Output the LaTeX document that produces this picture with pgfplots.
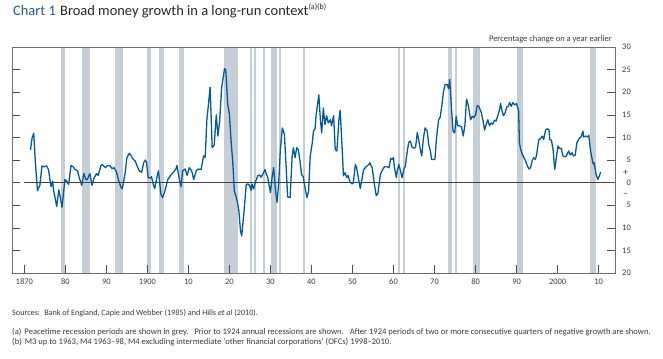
\documentclass[border=0pt]{standalone}
\usepackage{fontspec}
\setmainfont{Carlito}
\usepackage{pgfplots}
\pgfplotsset{compat=1.18}
\definecolor{boeblue}{HTML}{005A9C}
\definecolor{recgrey}{HTML}{C6CED6}
\definecolor{txtgrey}{HTML}{3A3A3A}
\definecolor{axgrey}{HTML}{6E6E6E}
\definecolor{titleblue}{HTML}{1F5AA0}
\pgfplotstableread{
year val
1871.5 7.2
1871.9 9.9
1872.3 10.9
1872.7 4.4
1873.2 -1.8
1873.8 -0.6
1874.3 3.7
1874.8 3.5
1875.4 3.7
1875.9 2.9
1876.5 -0.9
1876.9 0.3
1877.1 -1.5
1877.9 -5.3
1878.4 -1.6
1878.7 -2.9
1879.2 -5.5
1879.9 0.7
1880.4 0.2
1880.8 -0.4
1881.4 3.8
1881.9 3.5
1882.4 2.9
1883.0 2.6
1883.4 1.1
1884.0 -0.6
1884.5 2.0
1885.0 0.7
1885.3 0.6
1886.0 2.0
1886.5 -0.6
1887.0 1.0
1887.6 2.0
1888.0 1.6
1888.7 3.8
1889.0 4.0
1889.8 3.3
1890.3 3.8
1890.9 3.7
1891.4 3.1
1891.9 3.3
1892.5 2.3
1893.0 0.4
1893.6 -1.1
1893.9 -1.3
1894.6 2.2
1895.0 5.5
1895.6 6.5
1896.0 6.0
1896.4 5.3
1897.0 4.8
1897.5 3.7
1898.0 2.6
1898.6 2.3
1899.1 4.4
1899.5 5.0
1899.8 4.5
1900.2 1.1
1900.7 1.0
1901.0 1.3
1901.5 -0.6
1901.8 -1.3
1902.4 1.5
1902.7 2.6
1903.3 -2.6
1903.7 -3.3
1904.2 -2.1
1905.0 0.7
1905.8 1.8
1906.4 2.3
1907.0 3.1
1907.2 3.8
1907.8 0.7
1908.2 -0.9
1908.6 2.6
1909.2 3.0
1909.7 1.6
1910.2 3.3
1910.8 2.6
1911.3 0.7
1911.9 2.6
1912.4 3.0
1913.1 2.9
1913.7 5.9
1914.1 5.6
1914.5 13.9
1914.8 16.5
1915.3 21.1
1915.8 7.7
1916.3 8.3
1916.8 15.0
1917.2 10.3
1917.6 13.4
1918.1 20.9
1918.8 25.2
1919.1 25.0
1919.6 17.2
1920.0 15.2
1920.4 9.2
1920.8 4.8
1921.2 -1.8
1921.9 -4.0
1922.3 -6.2
1922.7 -10.7
1923.0 -11.8
1923.5 -7.0
1924.1 -0.4
1924.5 -0.3
1924.9 -0.6
1925.3 -1.7
1925.5 -0.3
1925.9 -1.4
1926.3 0.0
1926.9 1.5
1927.3 1.7
1927.7 1.2
1928.1 1.8
1928.7 2.9
1928.9 2.1
1929.3 1.3
1930.0 -2.2
1930.4 1.2
1930.8 3.3
1931.2 -1.4
1931.6 -4.4
1932.0 -0.3
1932.4 7.0
1932.9 12.1
1933.4 10.7
1933.8 4.0
1934.2 -3.2
1934.8 -3.3
1935.3 5.9
1935.6 7.7
1936.0 5.5
1936.4 7.7
1936.8 7.3
1937.2 4.8
1937.6 1.8
1938.0 1.3
1938.5 -1.5
1938.9 -3.3
1939.3 -1.9
1939.7 5.9
1940.2 8.8
1940.5 11.4
1940.9 12.0
1941.1 14.7
1941.8 19.4
1942.2 13.6
1942.5 11.0
1942.9 16.5
1943.3 12.8
1943.7 14.8
1944.1 13.2
1944.6 13.9
1944.9 12.6
1945.4 14.8
1945.8 7.3
1946.2 7.0
1946.7 13.9
1947.0 16.0
1947.5 7.3
1947.8 1.5
1948.2 2.2
1948.6 1.1
1948.9 1.6
1949.4 0.1
1949.9 -0.3
1950.2 -0.1
1950.7 4.0
1951.0 3.3
1951.5 0.7
1951.9 -1.3
1952.3 0.7
1952.7 2.8
1953.3 3.5
1954.0 4.0
1954.2 4.4
1954.8 3.3
1955.4 -0.7
1955.8 -2.9
1956.2 -2.4
1956.8 1.8
1957.3 2.8
1957.8 3.5
1958.5 3.5
1958.9 3.3
1959.3 5.3
1959.6 5.1
1960.0 5.5
1960.2 3.5
1960.7 1.1
1960.9 2.6
1961.3 4.0
1961.7 2.6
1962.1 1.1
1962.5 2.9
1962.9 3.7
1963.2 5.9
1963.7 8.9
1964.1 9.2
1964.5 7.9
1965.0 7.6
1965.4 7.9
1965.8 11.1
1966.2 9.2
1966.6 7.0
1966.9 5.9
1967.3 9.9
1967.7 12.1
1968.2 11.4
1968.6 8.4
1969.0 7.0
1969.3 5.1
1969.8 5.1
1970.1 5.2
1970.5 10.1
1971.0 13.9
1971.4 14.5
1971.8 17.2
1972.2 20.2
1972.6 21.7
1973.1 21.7
1973.4 20.8
1973.7 22.8
1974.1 16.9
1974.5 11.4
1974.9 11.0
1975.3 14.7
1975.6 12.6
1976.0 12.6
1976.6 12.3
1977.0 10.3
1977.4 12.6
1977.8 18.5
1978.2 17.2
1978.8 13.9
1979.2 14.7
1979.6 14.4
1980.0 15.0
1980.4 17.0
1980.8 16.9
1981.4 15.5
1981.8 13.8
1982.2 11.6
1982.6 12.9
1983.0 13.9
1983.4 12.6
1983.8 13.2
1984.2 12.9
1984.6 13.8
1985.0 13.6
1985.4 14.7
1985.9 16.3
1986.1 17.5
1986.4 16.1
1986.8 14.8
1987.2 15.4
1987.6 16.7
1988.0 16.9
1988.3 17.7
1988.7 16.9
1989.1 17.7
1989.5 17.2
1990.0 17.5
1990.5 15.8
1990.7 8.8
1991.0 7.3
1991.4 6.3
1991.8 5.5
1992.2 4.8
1992.6 3.8
1993.0 3.0
1993.4 3.3
1993.8 4.8
1994.2 5.5
1994.6 5.1
1994.9 6.2
1995.4 9.5
1995.8 9.7
1996.3 10.3
1996.6 9.5
1997.1 11.7
1997.5 11.9
1997.9 11.7
1998.1 9.5
1998.5 9.4
1998.9 7.3
1999.3 2.9
1999.7 5.5
2000.1 8.1
2000.5 7.5
2000.9 7.6
2001.3 5.9
2001.7 5.7
2002.1 5.8
2002.7 7.0
2003.1 6.1
2003.5 6.6
2003.9 5.9
2004.3 6.1
2004.7 8.8
2005.2 9.7
2005.7 10.1
2006.2 11.4
2006.3 10.1
2006.8 10.3
2007.4 10.1
2007.6 10.5
2008.0 7.3
2008.5 4.8
2008.7 4.1
2008.9 4.4
2009.4 1.8
2009.8 0.7
2010.1 1.3
2010.5 2.3
}\moneydata
\newcommand{\band}[2]{\addplot[fill=recgrey, draw=none, forget plot] coordinates {(#1,-20) (#2,-20) (#2,30) (#1,30)} -- cycle;}
\begin{document}
\begin{tikzpicture}[x=1bp,y=1bp]
\begin{axis}[
  at={(12bp,85bp)}, anchor=south west,
  scale only axis, width=603bp, height=226bp,
  xmin=1867, xmax=2014, ymin=-20, ymax=30,
  xtick={1870,1880,...,2010},
  xticklabels={1870,80,90,1900,10,20,30,40,50,60,70,80,90,2000,10},
  ytick={-20,-15,...,30},
  yticklabels={20,15,10,5,0,5,10,15,20,25,30},
  yticklabel pos=right,
  xtick pos=bottom, ytick pos=both,
  tick align=inside, major tick length=8bp,
  axis on top,
  axis line style={axgrey, line width=0.6bp},
  every tick/.style={axgrey!70!black, line width=0.6bp},
  yticklabel style={anchor=east, inner sep=0pt, xshift=16bp, font=\fontsize{8.5}{10}\selectfont, text=txtgrey},
  xticklabel style={font=\fontsize{8.5}{10}\selectfont, text=txtgrey, yshift=-2bp},
  /pgf/number format/assume math mode=true,
]
\band{1878.9}{1880.0}
\band{1884.1}{1886.0}
\band{1892.0}{1894.1}
\band{1900.0}{1901.0}
\band{1902.9}{1904.1}
\band{1907.8}{1909.0}
\band{1918.8}{1922.0}
\band{1925.0}{1925.4}
\band{1926.1}{1926.5}
\band{1928.1}{1928.6}
\band{1930.2}{1931.6}
\band{1932.0}{1932.5}
\band{1938.0}{1938.5}
\band{1961.2}{1961.7}
\band{1962.4}{1962.9}
\band{1973.2}{1974.2}
\band{1975.0}{1975.5}
\band{1979.5}{1981.0}
\band{1990.2}{1991.5}
\band{2008.0}{2009.4}
\addplot[draw=black!75, line width=0.7bp, forget plot] coordinates {(1870,0) (2014,0)};
\addplot[boeblue, line width=1.3bp, line join=round] table[x=year,y=val] {\moneydata};
\end{axis}
\node[anchor=base west, inner sep=0pt] at (13,343) {\fontsize{14.5}{16}\selectfont\color{titleblue}Chart 1\hspace{0.3em}\color{black!85}Broad money growth in a long-run context\textsuperscript{\fontsize{8}{9}\selectfont(a)(b)}};
\node[anchor=base east, inner sep=0pt, font=\fontsize{8.5}{10}\selectfont, text=txtgrey] at (612,317) {Percentage change on a year earlier};
\node[inner sep=0pt, font=\fontsize{10}{10}\selectfont, text=txtgrey] at (625.7,185.5) {+};
\node[inner sep=0pt, font=\fontsize{10}{10}\selectfont, text=txtgrey] at (625.5,163) {\textendash};
\node[anchor=base west, inner sep=0pt, font=\fontsize{8.2}{10}\selectfont, text=txtgrey] at (12,43) {Sources:\hspace{0.5em}Bank of England, Capie and Webber (1985) and Hills \textit{et al} (2010).};
\node[anchor=base west, inner sep=0pt, font=\fontsize{8.6}{10}\selectfont, text=txtgrey] at (12,24) {(a)\hspace{0.35em}Peacetime recession periods are shown in grey.\hspace{0.7em}Prior to 1924 annual recessions are shown.\hspace{0.7em}After 1924 periods of two or more consecutive quarters of negative growth are shown.};
\node[anchor=base west, inner sep=0pt, font=\fontsize{8.6}{10}\selectfont, text=txtgrey] at (12,14) {(b)\hspace{0.35em}M3 up to 1963, M4 1963\textendash 98, M4 excluding intermediate `other financial corporations' (OFCs) 1998\textendash 2010.};
\pgfresetboundingbox
\path (0,0) rectangle (663,358);
\end{tikzpicture}
\end{document}
